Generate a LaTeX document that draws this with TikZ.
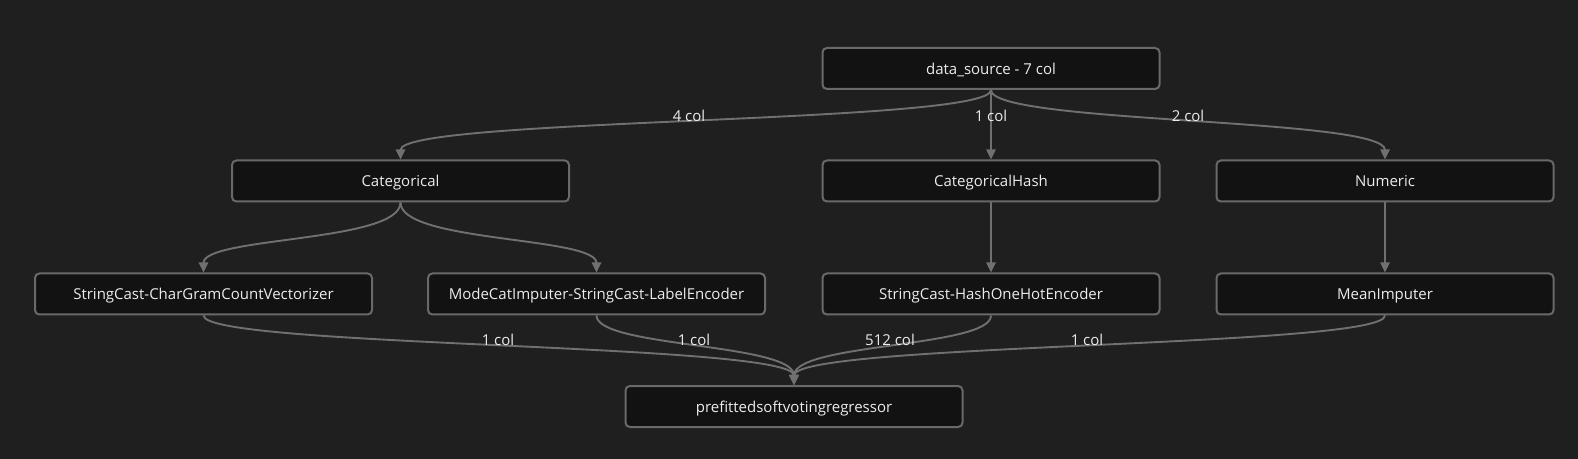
\documentclass[tikz,border=0pt]{standalone}
\usepackage{fontspec}
\setmainfont{Open Sans}
\usetikzlibrary{arrows.meta}
\definecolor{bgc}{RGB}{31,31,31}
\definecolor{boxfill}{RGB}{18,18,18}
\definecolor{boxline}{RGB}{105,105,105}
\definecolor{edgec}{RGB}{112,112,112}
\definecolor{txt}{RGB}{236,236,236}
\tikzset{
  box/.style={draw=boxline, fill=boxfill, line width=1pt, rounded corners=2.2pt,
    minimum width=168.5pt, minimum height=20.5pt, inner sep=0pt,
    text height=7.5pt, text depth=1.7pt,
    text=txt, font=\fontsize{7.5}{8.5}\selectfont},
  lbl/.style={text=txt, inner sep=0pt, text height=5.6pt, text depth=1.7pt,
    font=\fontsize{7.5}{8.5}\selectfont},
  edge/.style={draw=edgec, line width=0.95pt, -{Triangle[width=4.6pt,length=5pt]}}
}
\begin{document}
\begin{tikzpicture}[x=0.5pt,y=-0.5pt]
\fill[bgc] (0,0) rectangle (1578,459);
\useasboundingbox (0,0) rectangle (1578,459);
\node[box] (ds) at (991,68.5) {data\_source - 7 col};
\node[box] (cat) at (400.5,181) {Categorical};
\node[box] (ch) at (991,181) {CategoricalHash};
\node[box] (num) at (1385,181) {Numeric};
\node[box] (scv) at (203.5,294) {StringCast-CharGramCountVectorizer};
\node[box] (mci) at (596.5,294) {ModeCatImputer-StringCast-LabelEncoder};
\node[box] (hoh) at (991,294) {StringCast-HashOneHotEncoder};
\node[box] (mi) at (1385,294) {MeanImputer};
\node[box] (pf) at (794,406.5) {prefittedsoftvotingregressor};

\draw[edge] (ds.south) .. controls +(0,34) and +(0,-42) .. (cat.north);
\draw[edge] (ds.south) -- (ch.north);
\draw[edge] (ds.south) .. controls +(0,34) and +(0,-42) .. (num.north);
\draw[edge] (cat.south) .. controls +(0,40) and +(0,-36) .. (scv.north);
\draw[edge] (cat.south) .. controls +(0,40) and +(0,-36) .. (mci.north);
\draw[edge] (ch.south) -- (hoh.north);
\draw[edge] (num.south) -- (mi.north);
\draw[edge] (scv.south) .. controls +(0,32) and +(0,-42) .. (pf.north);
\draw[edge] (mci.south) .. controls +(0,32) and +(0,-42) .. (pf.north);
\draw[edge] (hoh.south) .. controls +(0,32) and +(0,-42) .. (pf.north);
\draw[edge] (mi.south) .. controls +(0,32) and +(0,-42) .. (pf.north);

\node[lbl] (l1) at (689,118) {4 col};
\node[lbl] (l2) at (991,118) {1 col};
\node[lbl] (l3) at (1188,118) {2 col};
\node[lbl] (l4) at (498,342) {1 col};
\node[lbl] (l5) at (694,342) {1 col};
\node[lbl] (l6) at (890,342) {512 col};
\node[lbl] (l7) at (1087,342) {1 col};
\end{tikzpicture}
\end{document}
